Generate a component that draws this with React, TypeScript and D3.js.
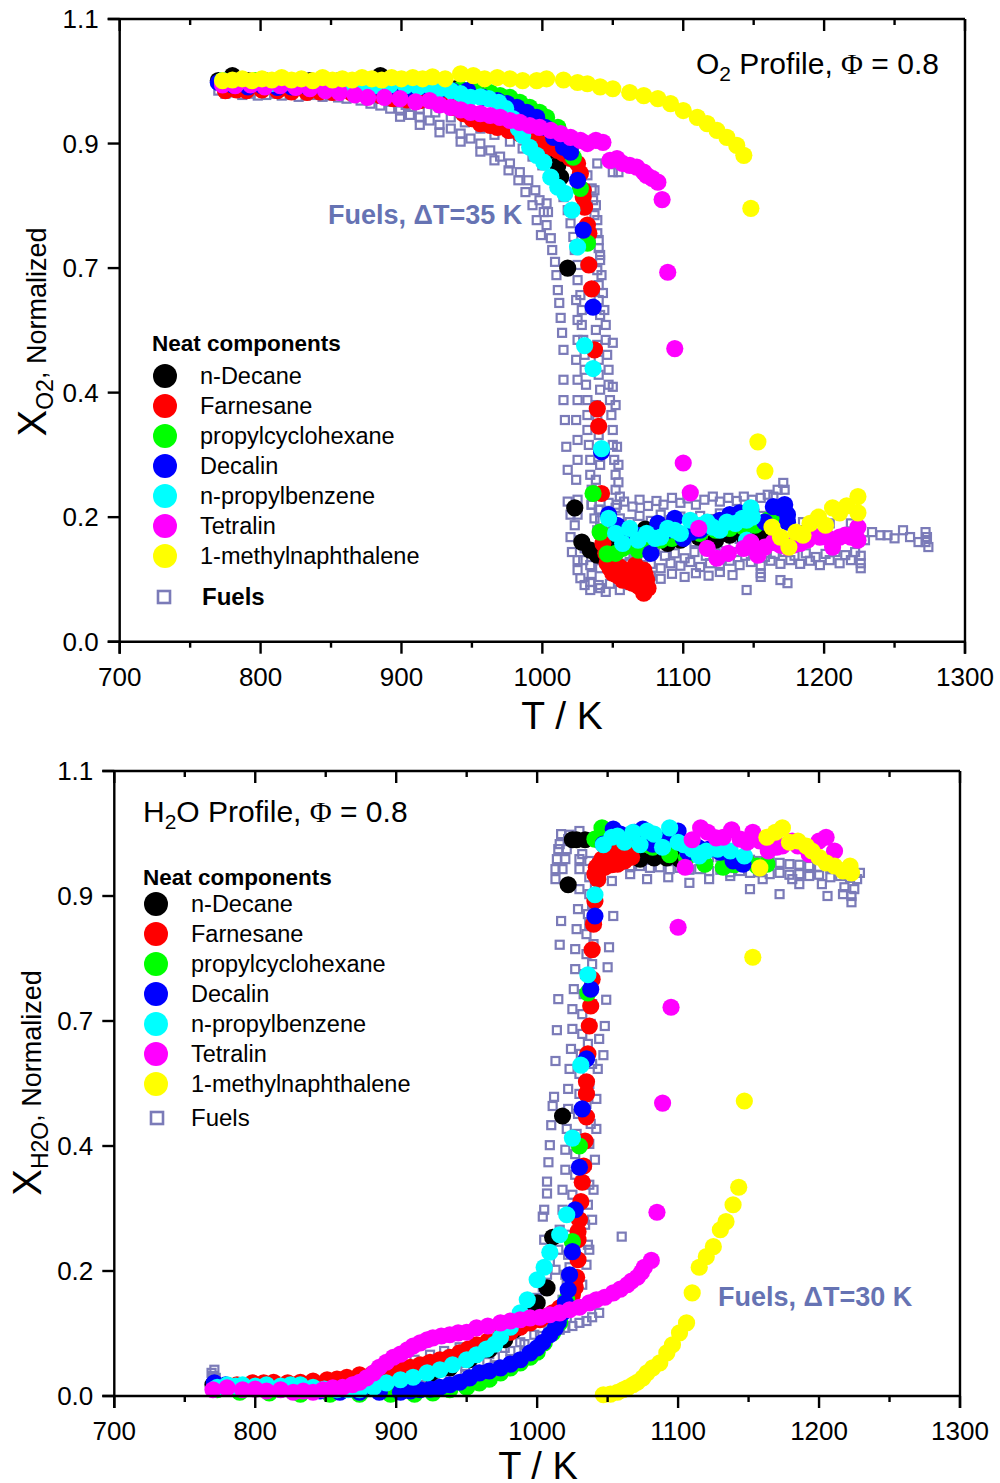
import React from 'react';
import * as d3 from 'd3';

type Pt = [number, number];

// ---------- axes ----------
const tempMajorTicks = [700, 800, 900, 1000, 1100, 1200, 1300];
const tempMinorTicks = [750, 850, 950, 1050, 1150, 1250];
const fracTicks = [0.0, 0.2, 0.4, 0.7, 0.9, 1.1];
const fracTickLabels = ['0.0', '0.2', '0.4', '0.7', '0.9', '1.1'];

// ---------- legend ----------
const componentNames = [
  'n-Decane',
  'Farnesane',
  'propylcyclohexane',
  'Decalin',
  'n-propylbenzene',
  'Tetralin',
  '1-methylnaphthalene',
];
const componentColors = ['#000000', '#ff0000', '#00ff00', '#0000ff', '#00ffff', '#ff00ff', '#ffff00'];
const fuelColor = '#7b7bb8';
const fuelTextColor = '#6673b3';

// ---------- O2 profiles (T / K, normalized X_O2) ----------
const o2Decane: Pt[] = [
  [770, 1.001], [780, 1.009], [791, 1.001], [803, 1.001], [814, 1.002], [825, 0.999], [835, 1.001], [846, 0.999],
  [856, 1.001], [867, 0.998], [878, 1.001], [885, 1.009], [896, 0.998], [906, 0.996], [917, 0.994], [927, 0.991],
  [938, 0.988], [949, 0.985], [959, 0.977], [970, 0.969], [981, 0.953], [990, 0.937], [998, 0.913], [1006, 0.889],
  [1011, 0.865], [1013, 0.846], [1018, 0.7], [1023, 0.215], [1028, 0.16], [1034, 0.147], [1039, 0.139], [1045, 0.15],
  [1052, 0.163], [1059, 0.155], [1066, 0.166], [1073, 0.181], [1080, 0.171], [1089, 0.158], [1098, 0.163],
  [1111, 0.168], [1123, 0.163], [1133, 0.171], [1144, 0.166], [1155, 0.174], [1158, 0.163],
];
const o2Farnesane: Pt[] = [
  [775, 0.985], [783, 0.986], [790, 0.985], [801, 0.986], [812, 0.985], [822, 0.983], [833, 0.982], [842, 0.983],
  [851, 0.982], [864, 0.982], [876, 0.98], [885, 0.977], [894, 0.972], [904, 0.97], [913, 0.969], [927, 0.969],
  [936, 0.958], [944, 0.948], [950, 0.94], [956, 0.932], [963, 0.929], [968, 0.926], [976, 0.921], [984, 0.916],
  [990, 0.91], [996, 0.905], [1001, 0.9], [1006, 0.894], [1011, 0.889], [1015, 0.884], [1020, 0.876], [1025, 0.868],
  [1027, 0.852], [1029, 0.825], [1029, 0.814], [1030, 0.798], [1032, 0.769], [1033, 0.756], [1033, 0.705],
  [1035, 0.65], [1037, 0.503], [1039, 0.374], [1040, 0.346], [1042, 0.238], [1043, 0.158], [1045, 0.142],
  [1046, 0.126], [1048, 0.118], [1050, 0.11], [1053, 0.107], [1055, 0.104], [1057, 0.099], [1060, 0.102],
  [1062, 0.096], [1064, 0.094], [1067, 0.091], [1069, 0.088], [1072, 0.078], [1074, 0.099], [1072, 0.115],
  [1073, 0.107], [1069, 0.104], [1062, 0.112], [1055, 0.12], [1050, 0.131], [1066, 0.123], [1075, 0.086],
  [1058, 0.115], [1064, 0.11], [1070, 0.096], [1047, 0.131],
];
const o2Propylcyclohexane: Pt[] = [
  [773, 1.001], [784, 0.999], [796, 1.001], [807, 0.998], [820, 0.999], [832, 0.998], [844, 0.998], [856, 0.996],
  [869, 0.996], [881, 0.996], [893, 0.994], [906, 0.994], [919, 0.993], [931, 0.991], [942, 0.988], [952, 0.985],
  [963, 0.982], [970, 0.977], [977, 0.974], [984, 0.966], [991, 0.958], [998, 0.95], [1003, 0.942], [1011, 0.926],
  [1015, 0.91], [1020, 0.894], [1022, 0.878], [1027, 0.828], [1032, 0.74], [1036, 0.238], [1041, 0.176],
  [1046, 0.141], [1052, 0.142], [1057, 0.15], [1062, 0.155], [1068, 0.147], [1075, 0.155], [1084, 0.163],
  [1092, 0.166], [1101, 0.171], [1112, 0.174], [1123, 0.179], [1133, 0.182], [1143, 0.184], [1151, 0.187],
  [1160, 0.195], [1169, 0.198],
];
const o2Decalin: Pt[] = [
  [770, 0.998], [780, 0.994], [791, 0.991], [801, 0.993], [812, 0.99], [822, 0.991], [834, 0.99], [844, 0.991],
  [855, 0.988], [865, 0.99], [876, 0.988], [886, 0.988], [898, 0.986], [908, 0.986], [919, 0.988], [927, 0.986],
  [936, 0.985], [947, 0.985], [958, 0.974], [968, 0.969], [975, 0.964], [982, 0.958], [989, 0.95], [996, 0.942],
  [1002, 0.926], [1008, 0.91], [1015, 0.894], [1020, 0.886], [1025, 0.841], [1029, 0.761], [1036, 0.606],
  [1042, 0.305], [1047, 0.204], [1053, 0.187], [1060, 0.179], [1067, 0.171], [1077, 0.142], [1082, 0.19],
  [1089, 0.179], [1094, 0.198], [1100, 0.166], [1106, 0.176], [1112, 0.179], [1119, 0.187], [1126, 0.195],
  [1133, 0.204], [1140, 0.207], [1148, 0.212], [1158, 0.192], [1164, 0.217], [1169, 0.215], [1172, 0.22],
  [1174, 0.204], [1174, 0.192],
];
const o2Propylbenzene: Pt[] = [
  [773, 1.001], [784, 0.998], [796, 0.999], [807, 0.996], [817, 0.998], [828, 0.998], [839, 0.996], [849, 0.994],
  [860, 0.994], [871, 0.994], [881, 0.993], [892, 0.994], [903, 0.993], [912, 0.991], [920, 0.993], [927, 0.988],
  [935, 0.985], [942, 0.98], [949, 0.974], [956, 0.975], [962, 0.972], [969, 0.966], [974, 0.956], [979, 0.94],
  [983, 0.924], [986, 0.913], [991, 0.894], [996, 0.881], [1001, 0.87], [1006, 0.846], [1011, 0.83], [1016, 0.82],
  [1021, 0.793], [1025, 0.734], [1030, 0.513], [1036, 0.458], [1042, 0.31], [1047, 0.198], [1052, 0.174],
  [1057, 0.158], [1062, 0.182], [1068, 0.163], [1074, 0.174], [1080, 0.166], [1084, 0.168], [1089, 0.182],
  [1094, 0.179], [1098, 0.174], [1105, 0.195], [1112, 0.187], [1117, 0.192], [1121, 0.184], [1126, 0.179],
  [1131, 0.192], [1137, 0.19], [1142, 0.198], [1145, 0.195], [1148, 0.215], [1149, 0.2], [1145, 0.163],
];
const o2Tetralin: Pt[] = [
  [773, 0.994], [782, 0.993], [793, 0.994], [803, 0.991], [814, 0.993], [825, 0.99], [835, 0.988], [846, 0.985],
  [856, 0.982], [867, 0.978], [876, 0.974], [888, 0.974], [899, 0.972], [910, 0.967], [920, 0.969], [927, 0.962],
  [935, 0.958], [942, 0.954], [949, 0.95], [956, 0.948], [963, 0.945], [970, 0.942], [977, 0.937], [984, 0.934],
  [991, 0.929], [998, 0.926], [1006, 0.921], [1013, 0.916], [1020, 0.91], [1027, 0.905], [1032, 0.9], [1038, 0.905],
  [1043, 0.902], [1048, 0.873], [1053, 0.876], [1057, 0.868], [1062, 0.865], [1067, 0.862], [1072, 0.854],
  [1074, 0.849], [1078, 0.844], [1082, 0.838], [1085, 0.81], [1089, 0.69], [1094, 0.506], [1100, 0.287],
  [1105, 0.239], [1111, 0.182], [1117, 0.15], [1124, 0.134], [1132, 0.142], [1143, 0.15], [1148, 0.16],
  [1153, 0.139], [1158, 0.152], [1164, 0.16], [1169, 0.155], [1174, 0.152], [1178, 0.155], [1183, 0.158],
  [1188, 0.163], [1192, 0.171], [1197, 0.168], [1202, 0.168], [1206, 0.152], [1211, 0.168], [1215, 0.171],
  [1219, 0.168], [1224, 0.184], [1224, 0.163],
];
const o2Methylnaphthalene: Pt[] = [
  [773, 1.001], [780, 1.002], [787, 1.004], [794, 1.001], [801, 1.004], [808, 1.002], [815, 1.006], [822, 1.002],
  [829, 1.004], [837, 1.001], [844, 1.006], [851, 1.002], [858, 1.004], [865, 1.002], [872, 1.006], [879, 1.004],
  [886, 1.002], [893, 1.006], [900, 1.004], [908, 1.006], [915, 1.004], [922, 1.007], [931, 1.004], [942, 1.012],
  [951, 1.009], [959, 1.004], [968, 1.006], [977, 1.004], [986, 1.001], [996, 1.001], [1003, 1.004], [1015, 1.002],
  [1025, 0.998], [1032, 0.996], [1041, 0.991], [1050, 0.988], [1062, 0.982], [1072, 0.977], [1082, 0.972],
  [1091, 0.964], [1100, 0.953], [1110, 0.942], [1117, 0.932], [1124, 0.921], [1131, 0.91], [1138, 0.897],
  [1143, 0.881], [1148, 0.796], [1153, 0.321], [1158, 0.274], [1163, 0.184], [1169, 0.168], [1175, 0.152],
  [1180, 0.176], [1185, 0.171], [1190, 0.19], [1196, 0.2], [1201, 0.187], [1206, 0.215], [1211, 0.207],
  [1216, 0.218], [1224, 0.233], [1224, 0.207],
];
const fuelsO2: Pt[] = [
  [770, 0.985], [775, 0.98], [781, 0.982], [787, 0.978], [793, 0.98], [798, 0.977], [804, 0.978], [810, 0.98],
  [815, 0.977], [821, 0.978], [827, 0.975], [832, 0.977], [838, 0.978], [844, 0.975], [849, 0.977], [855, 0.974],
  [861, 0.972], [866, 0.975],
  [871, 0.969], [878, 0.964], [885, 0.961], [892, 0.956], [899, 0.953], [906, 0.946], [913, 0.942], [920, 0.937],
  [927, 0.93], [935, 0.924], [942, 0.916], [949, 0.908], [956, 0.9], [963, 0.889], [970, 0.879], [977, 0.868],
  [984, 0.854], [990, 0.841], [995, 0.825], [998, 0.809], [1001, 0.79], [1003, 0.769], [1006, 0.748], [1007, 0.729],
  [1009, 0.71], [1010, 0.683], [1011, 0.647], [1012, 0.616], [1013, 0.58], [1014, 0.544], [1015, 0.503],
  [1015, 0.431], [1015, 0.388], [1016, 0.356], [1017, 0.313], [1018, 0.276], [1018, 0.225], [1020, 0.204],
  [1020, 0.168], [1021, 0.144], [1025, 0.131], [1025, 0.115], [1027, 0.102], [1030, 0.091], [1034, 0.083],
  [899, 0.943], [913, 0.93], [927, 0.918], [942, 0.903], [956, 0.887], [966, 0.873], [976, 0.857], [983, 0.841],
  [988, 0.822], [993, 0.801], [996, 0.777], [999, 0.753],
  [871, 0.977], [881, 0.972], [892, 0.967], [903, 0.962], [913, 0.956], [924, 0.95], [935, 0.942], [945, 0.934],
  [956, 0.924], [966, 0.914], [977, 0.903], [986, 0.892], [993, 0.879], [1000, 0.865], [1006, 0.849], [1010, 0.833],
  [1015, 0.814], [1018, 0.793], [1020, 0.772], [1022, 0.75], [1023, 0.729], [1025, 0.705], [1025, 0.671],
  [1027, 0.635], [1028, 0.599], [1028, 0.563], [1029, 0.527], [1030, 0.491], [1030, 0.455], [1031, 0.419],
  [1032, 0.388], [1032, 0.364], [1032, 0.34], [1033, 0.316], [1034, 0.292], [1034, 0.268], [1035, 0.244],
  [1035, 0.22], [1037, 0.198], [1039, 0.179],
  [885, 0.975], [899, 0.97], [913, 0.964], [927, 0.958], [942, 0.95], [956, 0.94], [970, 0.927], [984, 0.913],
  [998, 0.897], [1009, 0.884], [1018, 0.873], [1025, 0.862], [1032, 0.849], [1035, 0.828], [1036, 0.809],
  [1037, 0.785], [1039, 0.756], [1040, 0.732], [1041, 0.713], [1042, 0.683], [1043, 0.64], [1044, 0.599],
  [1045, 0.563], [1045, 0.527], [1046, 0.491], [1047, 0.455], [1047, 0.419], [1048, 0.388], [1049, 0.364],
  [1050, 0.34], [1050, 0.316], [1051, 0.292], [1052, 0.268], [1052, 0.244], [1053, 0.22],
  [1037, 0.825], [1038, 0.801], [1039, 0.777], [1040, 0.745], [1041, 0.721], [1039, 0.695], [1040, 0.659],
  [1040, 0.623], [1041, 0.587], [1038, 0.551], [1039, 0.515], [1040, 0.479], [1040, 0.443], [1041, 0.407],
  [1038, 0.38], [1039, 0.356], [1040, 0.332], [1040, 0.308], [1041, 0.284], [1038, 0.26], [1039, 0.236],
  [1040, 0.212],
  [1024, 0.623], [1025, 0.575], [1025, 0.527], [1024, 0.479], [1025, 0.431], [1025, 0.388], [1024, 0.356],
  [1025, 0.324], [1025, 0.292], [1024, 0.26], [1025, 0.228], [1025, 0.204],
  [1050, 0.52], [1050, 0.414], [1052, 0.38], [1053, 0.313], [1054, 0.284], [1054, 0.256], [1055, 0.233],
  [1039, 0.868], [1050, 0.854], [1054, 0.854], [1003, 0.804], [1004, 0.79],
  [1035, 0.22], [1041, 0.212], [1047, 0.223], [1052, 0.215], [1058, 0.225], [1064, 0.217], [1069, 0.228],
  [1075, 0.218], [1081, 0.226], [1086, 0.22], [1092, 0.231], [1098, 0.223], [1103, 0.23], [1109, 0.22],
  [1115, 0.228], [1121, 0.233], [1126, 0.225], [1132, 0.231], [1138, 0.226], [1143, 0.233], [1149, 0.228],
  [1155, 0.231], [1160, 0.236], [1164, 0.233], [1167, 0.244], [1171, 0.255], [1172, 0.244],
  [1041, 0.195], [1048, 0.189], [1055, 0.198], [1062, 0.192], [1069, 0.202], [1077, 0.194], [1084, 0.204],
  [1091, 0.195], [1098, 0.201], [1105, 0.192], [1112, 0.202], [1119, 0.197], [1126, 0.206], [1133, 0.198],
  [1140, 0.204], [1148, 0.209], [1155, 0.202], [1162, 0.21], [1169, 0.206], [1176, 0.201], [1185, 0.192],
  [1195, 0.184], [1204, 0.19], [1219, 0.19], [1229, 0.163], [1234, 0.176], [1240, 0.171], [1245, 0.171],
  [1250, 0.166], [1256, 0.179], [1261, 0.168], [1267, 0.16], [1272, 0.176], [1273, 0.168], [1274, 0.152],
  [1272, 0.16],
  [1045, 0.166], [1055, 0.171], [1066, 0.163], [1077, 0.17], [1087, 0.162], [1098, 0.168], [1108, 0.16],
  [1119, 0.166], [1130, 0.158], [1140, 0.165],
  [1030, 0.15], [1037, 0.144], [1045, 0.139], [1052, 0.147], [1059, 0.138], [1066, 0.144], [1073, 0.136],
  [1080, 0.146], [1087, 0.138], [1094, 0.142], [1101, 0.134], [1108, 0.144], [1116, 0.138], [1123, 0.142],
  [1130, 0.136], [1137, 0.144], [1144, 0.138], [1151, 0.142], [1158, 0.136], [1165, 0.141], [1172, 0.144],
  [1179, 0.138], [1187, 0.142], [1194, 0.136], [1201, 0.141], [1208, 0.144], [1215, 0.139], [1222, 0.144],
  [1226, 0.138],
  [1034, 0.123], [1041, 0.118], [1048, 0.126], [1055, 0.12], [1062, 0.128], [1069, 0.117], [1077, 0.125],
  [1084, 0.118], [1091, 0.126], [1098, 0.122], [1105, 0.128], [1112, 0.12], [1119, 0.126], [1126, 0.122],
  [1133, 0.13], [1140, 0.123], [1148, 0.128], [1155, 0.122], [1162, 0.13], [1169, 0.125], [1176, 0.131],
  [1183, 0.125], [1190, 0.13], [1197, 0.123], [1204, 0.131], [1211, 0.126], [1219, 0.131], [1226, 0.126],
  [1226, 0.118],
  [1034, 0.096], [1041, 0.086], [1048, 0.093], [1055, 0.083], [1062, 0.091], [1069, 0.099], [1077, 0.106],
  [1084, 0.101], [1092, 0.109], [1101, 0.104], [1109, 0.11], [1118, 0.106], [1126, 0.112], [1135, 0.107],
  [1145, 0.083], [1155, 0.11], [1169, 0.099], [1174, 0.094], [1155, 0.104],
  [1023, 0.187], [1027, 0.163], [1029, 0.131], [1035, 0.107], [1040, 0.091], [1045, 0.08],
];

// ---------- H2O profiles (T / K, normalized X_H2O) ----------
const h2oDecane: Pt[] = [
  [770, 0.018], [782, 0.016], [796, 0.014], [810, 0.014], [825, 0.013], [839, 0.013], [853, 0.011], [867, 0.011],
  [881, 0.014], [896, 0.018], [910, 0.026], [924, 0.035], [938, 0.045], [952, 0.058], [966, 0.074], [977, 0.09],
  [984, 0.106], [989, 0.118], [995, 0.13], [1000, 0.149], [1007, 0.173], [1011, 0.254], [1018, 0.472],
  [1022, 0.918], [1025, 0.99], [1028, 0.99], [1034, 0.99], [1073, 0.959], [1083, 0.961], [1092, 0.961], [1101, 0.959],
];
const h2oFarnesane: Pt[] = [
  [771, 0.013], [779, 0.016], [787, 0.018], [798, 0.021], [806, 0.021], [813, 0.022], [823, 0.021], [832, 0.022],
  [841, 0.024], [851, 0.026], [858, 0.027], [865, 0.03], [874, 0.034], [883, 0.035], [891, 0.037], [897, 0.04],
  [903, 0.042], [910, 0.046], [917, 0.05], [924, 0.054], [931, 0.058], [938, 0.062], [945, 0.069], [951, 0.075],
  [957, 0.082], [965, 0.088], [974, 0.096], [981, 0.102], [988, 0.11], [995, 0.117], [1002, 0.122], [1007, 0.128],
  [1011, 0.133], [1016, 0.141], [1021, 0.149], [1025, 0.162], [1027, 0.174], [1028, 0.19], [1029, 0.218],
  [1029, 0.25], [1029, 0.263], [1030, 0.282], [1031, 0.311], [1032, 0.342], [1033, 0.368], [1034, 0.412],
  [1035, 0.47], [1035, 0.525], [1035, 0.554], [1036, 0.621], [1037, 0.688], [1038, 0.724], [1039, 0.767],
  [1039, 0.814], [1040, 0.855], [1041, 0.892], [1042, 0.946], [1046, 0.959], [1049, 0.975], [1054, 0.975],
  [1059, 0.978], [1064, 0.98], [1068, 0.986], [1073, 0.996], [1078, 0.988], [1044, 0.951], [1052, 0.962],
  [1057, 0.967], [1062, 0.97], [1041, 0.935], [1044, 0.94], [1048, 0.946], [1053, 0.95], [1057, 0.951],
  [1062, 0.956], [1067, 0.962], [1043, 0.927],
];
const h2oPropylcyclohexane: Pt[] = [
  [773, 0.01], [789, 0.006], [810, 0.005], [832, 0.003], [853, 0.003], [874, 0.003], [896, 0.003], [913, 0.003],
  [926, 0.005], [938, 0.01], [950, 0.014], [959, 0.021], [966, 0.027], [974, 0.037], [981, 0.045], [988, 0.053],
  [995, 0.062], [1000, 0.07], [1005, 0.085], [1011, 0.101], [1016, 0.117], [1021, 0.154], [1025, 0.247],
  [1030, 0.4], [1036, 0.745], [1041, 0.991], [1046, 1.009], [1055, 0.999], [1066, 0.991], [1076, 0.983],
  [1082, 0.978], [1094, 0.966], [1106, 0.961], [1119, 0.951], [1132, 0.946], [1140, 0.95], [1149, 0.954],
  [1156, 0.948], [1163, 0.951],
];
const h2oDecalin: Pt[] = [
  [771, 0.021], [779, 0.018], [789, 0.014], [803, 0.013], [818, 0.011], [832, 0.01], [846, 0.008], [860, 0.006],
  [874, 0.006], [888, 0.006], [903, 0.006], [910, 0.008], [917, 0.01], [924, 0.011], [931, 0.014], [938, 0.018],
  [945, 0.022], [952, 0.029], [959, 0.037], [966, 0.04], [974, 0.045], [981, 0.051], [988, 0.058], [995, 0.069],
  [1000, 0.077], [1004, 0.086], [1009, 0.098], [1013, 0.109], [1015, 0.118], [1018, 0.133], [1020, 0.149],
  [1022, 0.17], [1023, 0.194], [1025, 0.231], [1027, 0.298], [1030, 0.366], [1032, 0.489], [1035, 0.609],
  [1038, 0.751], [1041, 0.868], [1047, 0.983], [1054, 1.007], [1059, 0.999], [1064, 0.996], [1069, 1.002],
  [1075, 1.007], [1082, 0.983], [1091, 0.991], [1100, 1.004], [1107, 0.97], [1114, 0.978], [1122, 0.975],
  [1130, 0.97], [1139, 0.956], [1146, 0.951],
];
const h2oPropylbenzene: Pt[] = [
  [773, 0.014], [780, 0.018], [786, 0.016], [791, 0.018], [800, 0.016], [808, 0.018], [818, 0.016], [825, 0.018],
  [832, 0.018], [841, 0.014], [849, 0.011], [858, 0.01], [866, 0.01], [874, 0.01], [884, 0.014], [893, 0.021],
  [903, 0.026], [912, 0.03], [922, 0.037], [931, 0.042], [940, 0.05], [950, 0.058], [957, 0.066], [964, 0.075],
  [970, 0.083], [974, 0.094], [981, 0.11], [988, 0.133], [993, 0.154], [1000, 0.186], [1005, 0.206], [1009, 0.23],
  [1016, 0.258], [1021, 0.29], [1025, 0.419], [1031, 0.594], [1036, 0.774], [1041, 0.902], [1047, 0.982],
  [1053, 0.994], [1057, 0.996], [1062, 0.986], [1068, 1.002], [1073, 0.982], [1078, 1.004], [1083, 0.999],
  [1089, 0.978], [1094, 1.009], [1100, 0.986], [1104, 0.982], [1110, 0.975], [1115, 0.964], [1120, 0.972],
  [1128, 0.975], [1137, 0.972], [1147, 0.964],
];
const h2oTetralin: Pt[] = [
  [770, 0.01], [780, 0.013], [791, 0.01], [800, 0.011], [808, 0.008], [818, 0.01], [827, 0.006], [834, 0.008],
  [841, 0.006], [848, 0.01], [855, 0.013], [862, 0.014], [869, 0.018], [874, 0.022], [879, 0.029], [884, 0.037],
  [888, 0.046], [893, 0.054], [898, 0.062], [903, 0.067], [908, 0.074], [912, 0.08], [917, 0.085], [922, 0.09],
  [926, 0.093], [932, 0.096], [938, 0.098], [944, 0.101], [950, 0.102], [957, 0.109], [965, 0.112], [974, 0.117],
  [981, 0.12], [988, 0.122], [995, 0.125], [1002, 0.126], [1009, 0.13], [1016, 0.133], [1023, 0.138], [1030, 0.142],
  [1037, 0.149], [1042, 0.154], [1048, 0.158], [1054, 0.165], [1059, 0.171], [1064, 0.178], [1067, 0.184],
  [1071, 0.19], [1074, 0.198], [1076, 0.206], [1081, 0.217], [1085, 0.294], [1089, 0.503], [1095, 0.722],
  [1100, 0.85], [1105, 0.946], [1110, 0.99], [1116, 1.009], [1121, 1.002], [1127, 0.993], [1132, 0.994],
  [1138, 1.006], [1144, 0.991], [1149, 0.986], [1153, 1.002], [1158, 0.988], [1164, 0.972], [1170, 0.978],
  [1174, 0.98], [1181, 0.988], [1185, 0.98], [1193, 0.967], [1200, 0.988], [1205, 0.994], [1211, 0.972],
];
const h2oMethylnaphthalene: Pt[] = [
  [1047, 0.002], [1052, 0.003], [1057, 0.006], [1061, 0.01], [1064, 0.013], [1068, 0.018], [1071, 0.022],
  [1075, 0.029], [1078, 0.037], [1082, 0.045], [1087, 0.053], [1092, 0.069], [1096, 0.082], [1101, 0.101],
  [1106, 0.117], [1110, 0.165], [1115, 0.206], [1120, 0.223], [1125, 0.239], [1130, 0.266], [1134, 0.279],
  [1139, 0.306], [1143, 0.334], [1147, 0.508], [1153, 0.802], [1158, 0.945], [1163, 0.994], [1169, 1.002],
  [1174, 1.009], [1179, 0.986], [1185, 0.988], [1191, 0.98], [1195, 0.972], [1200, 0.962], [1205, 0.953],
  [1211, 0.948], [1217, 0.94], [1222, 0.948], [1223, 0.937],
];
const fuelsH2O: Pt[] = [
  [770, 0.032], [771, 0.042], [772, 0.029],
  [769, 0.037], [771, 0.026], [776, 0.019], [784, 0.016], [793, 0.014], [802, 0.013], [810, 0.011], [821, 0.011],
  [832, 0.01], [842, 0.01], [853, 0.008], [864, 0.008], [874, 0.008], [885, 0.01], [896, 0.011], [906, 0.014],
  [917, 0.018], [927, 0.022], [938, 0.027], [949, 0.034], [959, 0.04], [970, 0.048], [981, 0.058], [991, 0.069],
  [1002, 0.082], [1010, 0.096], [1016, 0.109], [1021, 0.125], [1025, 0.146],
  [853, 0.018], [864, 0.021], [874, 0.024], [885, 0.029], [896, 0.034], [906, 0.042], [917, 0.05], [927, 0.058],
  [938, 0.066], [949, 0.074], [959, 0.082], [970, 0.091], [977, 0.101], [984, 0.114], [991, 0.126], [996, 0.141],
  [1000, 0.157], [1004, 0.174], [1007, 0.194], [1009, 0.215],
  [903, 0.029], [913, 0.035], [924, 0.04], [935, 0.046], [945, 0.053], [956, 0.061], [966, 0.067], [977, 0.077],
  [988, 0.086], [998, 0.098], [1008, 0.112], [1014, 0.13], [1018, 0.154], [1021, 0.178], [1023, 0.206],
  [832, 0.016], [842, 0.018], [853, 0.013], [864, 0.014], [874, 0.018], [885, 0.019], [896, 0.022], [906, 0.026],
  [917, 0.03], [927, 0.035], [938, 0.042], [949, 0.048], [959, 0.054], [970, 0.062], [981, 0.072], [991, 0.083],
  [1002, 0.096], [1009, 0.109], [1014, 0.122], [1017, 0.138], [1020, 0.157],
  [1016, 0.106], [1020, 0.109], [1025, 0.112], [1030, 0.117], [1035, 0.12], [1039, 0.126], [1044, 0.133],
  [1060, 0.255],
  [892, 0.038], [903, 0.048], [913, 0.058], [924, 0.066], [934, 0.072], [945, 0.078], [956, 0.085], [966, 0.091],
  [1005, 0.25], [1004, 0.287], [1005, 0.298], [1007, 0.324], [1007, 0.343], [1008, 0.374], [1009, 0.402],
  [1010, 0.45], [1011, 0.496], [1012, 0.518], [1013, 0.604], [1014, 0.678], [1015, 0.735], [1016, 0.822],
  [1017, 0.86], [1018, 0.943], [1020, 0.959], [1021, 0.975], [1022, 0.991],
  [1013, 0.202], [1015, 0.234], [1016, 0.266], [1018, 0.298], [1018, 0.33], [1020, 0.362], [1020, 0.394],
  [1021, 0.441], [1022, 0.489], [1022, 0.537], [1023, 0.585], [1024, 0.633], [1025, 0.681], [1025, 0.719],
  [1026, 0.751], [1027, 0.783], [1027, 0.815], [1028, 0.847], [1029, 0.879], [1030, 0.911], [1030, 0.943],
  [1032, 0.967],
  [1020, 0.194], [1022, 0.226], [1023, 0.258], [1025, 0.29], [1025, 0.322], [1027, 0.354], [1027, 0.387],
  [1028, 0.429], [1029, 0.477], [1030, 0.525], [1030, 0.573], [1031, 0.621], [1032, 0.669], [1032, 0.711],
  [1033, 0.743], [1034, 0.775], [1035, 0.807], [1035, 0.839], [1036, 0.871], [1037, 0.903], [1037, 0.93],
  [1032, 0.178], [1035, 0.21], [1036, 0.242], [1034, 0.274], [1036, 0.306], [1037, 0.338], [1035, 0.37],
  [1037, 0.405], [1038, 0.453], [1035, 0.501], [1037, 0.549], [1039, 0.597], [1036, 0.645], [1038, 0.693],
  [1039, 0.727], [1037, 0.759], [1039, 0.791], [1040, 0.823], [1037, 0.855], [1039, 0.887], [1041, 0.914],
  [1047, 0.618], [1048, 0.688], [1049, 0.734], [1050, 0.786], [1051, 0.818], [1054, 0.868],
  [1037, 0.234], [1039, 0.282], [1040, 0.33], [1041, 0.378], [1042, 0.441], [1042, 0.513], [1043, 0.585],
  [1044, 0.657],
  [1017, 0.999], [1023, 0.998], [1030, 1.004], [1037, 0.994], [1044, 0.986], [1052, 0.982], [1059, 0.978],
  [1066, 0.975], [1073, 0.972], [1080, 0.97], [1087, 0.972], [1094, 0.969], [1101, 0.967], [1108, 0.966],
  [1115, 0.964], [1122, 0.962], [1130, 0.962], [1137, 0.961], [1144, 0.959], [1151, 0.958], [1158, 0.956],
  [1165, 0.954], [1172, 0.953], [1179, 0.951], [1186, 0.95], [1193, 0.948], [1200, 0.946], [1208, 0.945],
  [1215, 0.943], [1222, 0.942], [1229, 0.937],
  [1030, 0.959], [1037, 0.956], [1044, 0.953], [1052, 0.95], [1059, 0.95], [1066, 0.946], [1073, 0.948],
  [1080, 0.945], [1087, 0.946], [1094, 0.943], [1101, 0.945], [1108, 0.942], [1115, 0.943], [1122, 0.94],
  [1130, 0.942], [1137, 0.938], [1144, 0.94], [1151, 0.937], [1158, 0.938], [1165, 0.935], [1172, 0.937],
  [1179, 0.934], [1186, 0.935], [1193, 0.932], [1200, 0.934], [1208, 0.93], [1215, 0.932], [1222, 0.929],
  [1227, 0.927],
  [1041, 0.93], [1053, 0.924], [1066, 0.935], [1078, 0.927], [1093, 0.93], [1108, 0.921], [1122, 0.927],
  [1137, 0.932], [1151, 0.911], [1160, 0.927], [1172, 0.903], [1181, 0.927], [1186, 0.919], [1202, 0.919],
  [1206, 0.9], [1217, 0.903], [1223, 0.9], [1223, 0.89], [1218, 0.914], [1225, 0.911],
  [1015, 0.975], [1013, 0.943], [1013, 0.927], [1014, 0.959], [1016, 0.983],
];

const o2Series = [
  o2Decane, o2Farnesane, o2Propylcyclohexane, o2Decalin, o2Propylbenzene, o2Tetralin, o2Methylnaphthalene,
];
const h2oSeries = [
  h2oDecane, h2oFarnesane, h2oPropylcyclohexane, h2oDecalin, h2oPropylbenzene, h2oTetralin, h2oMethylnaphthalene,
];

type Frame = { left: number; right: number; top: number; bottom: number };

const FONT = "'Liberation Sans', Arial, Helvetica, sans-serif";
const SERIF = "'Liberation Serif', 'Times New Roman', serif";

function ProfilePanel({ frame, series, fuels }: { frame: Frame; series: Pt[][]; fuels: Pt[] }) {
  const x = d3.scaleLinear().domain([700, 1300]).range([frame.left, frame.right]);
  const step = (frame.bottom - frame.top) / (fracTicks.length - 1);
  const y = d3
    .scaleLinear()
    .domain(fracTicks)
    .range(fracTicks.map((_, i) => frame.bottom - i * step));
  const sw = 2.4;
  const sq = 8;

  return (
    <g>
      {/* fuels: hollow squares */}
      <g stroke={fuelColor} strokeWidth={2.2} fill="none">
        {fuels.map((d, i) => (
          <rect key={i} x={x(d[0]) - sq / 2} y={y(d[1]) - sq / 2} width={sq} height={sq} />
        ))}
      </g>
      {/* neat components */}
      {series.map((s, si) => (
        <g key={si} fill={componentColors[si]}>
          {s.map((d, i) => (
            <circle key={i} cx={x(d[0])} cy={y(d[1])} r={8.6} />
          ))}
        </g>
      ))}
      {/* frame */}
      <g stroke="#000" strokeWidth={sw} fill="none">
        <line x1={frame.left - 12} x2={frame.right} y1={frame.bottom} y2={frame.bottom} />
        <line x1={frame.left - 12} x2={frame.right} y1={frame.top} y2={frame.top} />
        <line x1={frame.left} x2={frame.left} y1={frame.top} y2={frame.bottom + 12} />
        <line x1={frame.right} x2={frame.right} y1={frame.top} y2={frame.bottom + 12} />
        {tempMajorTicks.map((t) => (
          <g key={'M' + t}>
            <line x1={x(t)} x2={x(t)} y1={frame.bottom} y2={frame.bottom + 12} />
            <line x1={x(t)} x2={x(t)} y1={frame.top} y2={frame.top + 12} />
          </g>
        ))}
        {tempMinorTicks.map((t) => (
          <g key={'m' + t}>
            <line x1={x(t)} x2={x(t)} y1={frame.bottom} y2={frame.bottom + 6} />
            <line x1={x(t)} x2={x(t)} y1={frame.top} y2={frame.top + 6} />
          </g>
        ))}
        {fracTicks.map((v) => (
          <line key={'y' + v} x1={frame.left - 12} x2={frame.left} y1={y(v)} y2={y(v)} />
        ))}
      </g>
      {/* tick labels */}
      <g fontFamily={FONT} fontSize={26} fill="#000">
        {tempMajorTicks.map((t) => (
          <text key={'tl' + t} x={x(t)} y={frame.bottom + 44} textAnchor="middle">
            {String(t)}
          </text>
        ))}
        {fracTicks.map((v, i) => (
          <text key={'yl' + v} x={frame.left - 21} y={y(v)} dy="0.35em" textAnchor="end">
            {fracTickLabels[i]}
          </text>
        ))}
      </g>
    </g>
  );
}

function Legend({ x, y, firstRow }: { x: number; y: number; firstRow: number }) {
  return (
    <g fontFamily={FONT}>
      <text x={x} y={y} fontSize={22.5} fontWeight="bold">
        Neat components
      </text>
      {componentNames.map((name, i) => (
        <g key={name}>
          <circle cx={x + 13} cy={y + firstRow + i * 30} r={12} fill={componentColors[i]} />
          <text x={x + 48} y={y + firstRow + i * 30} dy="0.35em" fontSize={23.5}>
            {name}
          </text>
        </g>
      ))}
    </g>
  );
}

export default function App() {
  const top: Frame = { left: 119.7, right: 965, top: 19, bottom: 641.7 };
  const bot: Frame = { left: 114.3, right: 960, top: 771, bottom: 1396 };
  return (
    <svg
      width={1000}
      height={1483}
      style={{ position: 'absolute', left: 0, top: 0, background: '#fff' }}
      fontFamily={FONT}
    >
      <rect x={0} y={0} width={1000} height={1483} fill="#fff" />

      {/* O2 panel */}
      <ProfilePanel frame={top} series={o2Series} fuels={fuelsO2} />
      <text x={696} y={74} fontSize={30}>
        O<tspan fontSize={21} dy={7}>2</tspan>
        <tspan dy={-7}>{' Profile, '}</tspan>
        <tspan fontFamily={SERIF}>Φ</tspan>
        {' = 0.8'}
      </text>
      <text x={328} y={224} fontSize={27} fontWeight="bold" fill={fuelTextColor}>
        Fuels, ΔT=35 K
      </text>
      <Legend x={152} y={351} firstRow={25} />
      <rect x={158} y={591} width={12} height={12} fill="none" stroke={fuelColor} strokeWidth={2.6} />
      <text x={202} y={597} dy="0.35em" fontSize={24} fontWeight="bold">
        Fuels
      </text>
      <text x={562} y={729} fontSize={39} textAnchor="middle">
        T / K
      </text>
      <text transform="translate(46,332) rotate(-90)" textAnchor="middle" fontSize={27}>
        <tspan fontSize={40}>X</tspan>
        <tspan fontSize={23} dy={7}>O2</tspan>
        <tspan dy={-7}>, Normalized</tspan>
      </text>

      {/* H2O panel */}
      <ProfilePanel frame={bot} series={h2oSeries} fuels={fuelsH2O} />
      <text x={143} y={822} fontSize={30}>
        H<tspan fontSize={21} dy={7}>2</tspan>
        <tspan dy={-7}>{'O Profile, '}</tspan>
        <tspan fontFamily={SERIF}>Φ</tspan>
        {' = 0.8'}
      </text>
      <text x={718} y={1306} fontSize={27} fontWeight="bold" fill={fuelTextColor}>
        Fuels, ΔT=30 K
      </text>
      <Legend x={143} y={885} firstRow={19} />
      <rect x={151} y={1112} width={12} height={12} fill="none" stroke={fuelColor} strokeWidth={2.6} />
      <text x={191} y={1118} dy="0.35em" fontSize={24}>
        Fuels
      </text>
      <text x={538} y={1479} fontSize={38} textAnchor="middle">
        T / K
      </text>
      <text transform="translate(41,1083) rotate(-90)" textAnchor="middle" fontSize={27}>
        <tspan fontSize={40}>X</tspan>
        <tspan fontSize={23} dy={7}>H2O</tspan>
        <tspan dy={-7}>, Normalized</tspan>
      </text>
    </svg>
  );
}
